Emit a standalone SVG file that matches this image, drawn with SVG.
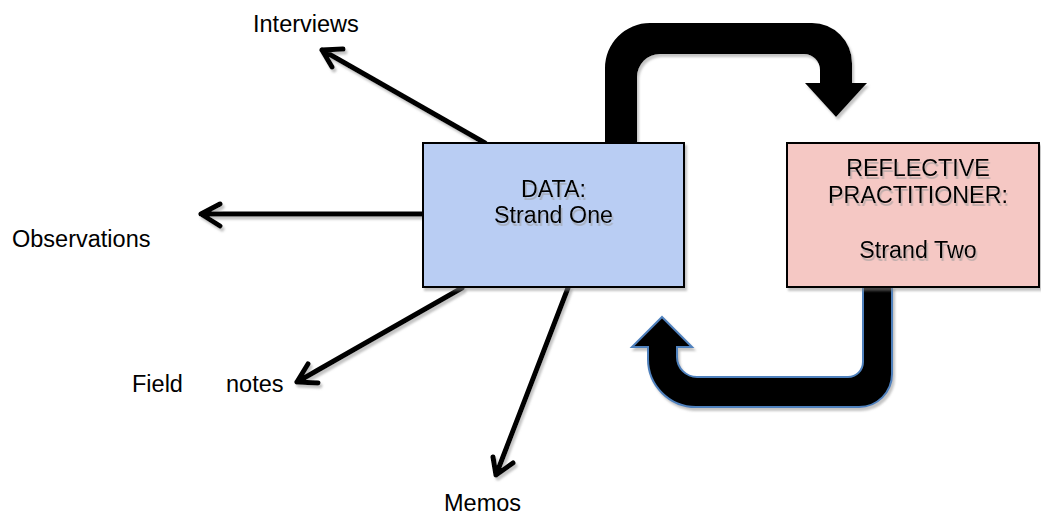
<svg xmlns="http://www.w3.org/2000/svg" width="1041" height="515" viewBox="0 0 1041 515">
<style>
.box{stroke:#000;stroke-width:2}
.lbl{font-family:"Liberation Sans",Arial,sans-serif;font-size:23.5px;fill:#000}
.btxt{font-family:"Liberation Sans",Arial,sans-serif;font-size:23.3px;fill:#000;text-anchor:middle}
.thin{fill:none;stroke:#000;stroke-width:5;stroke-linecap:round;stroke-linejoin:round}
</style>
<defs>
<filter id="sh" x="-10%" y="-10%" width="130%" height="130%">
<feDropShadow dx="2" dy="3" stdDeviation="1" flood-color="#888" flood-opacity="0.5"/>
</filter>
<filter id="tsh" x="-10%" y="-20%" width="130%" height="160%">
<feDropShadow dx="1.5" dy="3" stdDeviation="0.6" flood-color="#999" flood-opacity="0.55"/>
</filter>
</defs>
<rect width="1041" height="515" fill="#fff"/>
<g id="connectors">
<g filter="url(#sh)">
<path class="thin" d="M485,143 L322,50 M343,49 L322,50 L332,67"/>
<path class="thin" d="M423,214 L201,214 M220,204 L201,214 L220,226"/>
<path class="thin" d="M462,288 L297,382 M308,364 L297,382 L318,383"/>
<path class="thin" d="M568,288 L496,475 M493,457 L496,475 L513,463"/>
</g>
<path id="loop-top" filter="url(#sh)" fill="#000" d="M605,145 V68 A45,45 0 0 1 650,23 H812 A40,40 0 0 1 852,63 V83 H867 L836,117 L805,83 H820 V70 A16,16 0 0 0 804,54 H660 A23,23 0 0 0 637,77 V145 Z"/>
<path id="loop-bottom" filter="url(#sh)" fill="#000" stroke="#4f81bd" stroke-width="2" d="M863,287 H892 V374 A33,33 0 0 1 859,407 H696 A48,48 0 0 1 648,359 V347 H632 L662,317 L692,347 H677 V357 A20,20 0 0 0 697,377 H848 A15,15 0 0 0 863,362 Z"/>
</g>
<g id="data">
<rect class="box" filter="url(#sh)" x="423" y="143" width="261" height="144" fill="#b9cdf3"/>
<g filter="url(#tsh)">
<text class="btxt" x="553.5" y="197">DATA:</text>
<text class="btxt" x="553.5" y="223">Strand One</text>
</g>
</g>
<g id="reflective">
<rect class="box" filter="url(#sh)" x="787" y="143" width="252" height="144" fill="#f5c8c4"/>
<g filter="url(#tsh)">
<text class="btxt" x="918" y="176">REFLECTIVE</text>
<text class="btxt" x="918" y="203">PRACTITIONER:</text>
<text class="btxt" x="918" y="258">Strand Two</text>
</g>
</g>
<g id="interviews"><text class="lbl" x="253" y="32">Interviews</text></g>
<g id="observations"><text class="lbl" x="12" y="247">Observations</text></g>
<g id="fieldnotes"><text class="lbl" x="132" y="392">Field<tspan x="226">notes</tspan></text></g>
<g id="memos"><text class="lbl" x="444" y="511">Memos</text></g>
</svg>
